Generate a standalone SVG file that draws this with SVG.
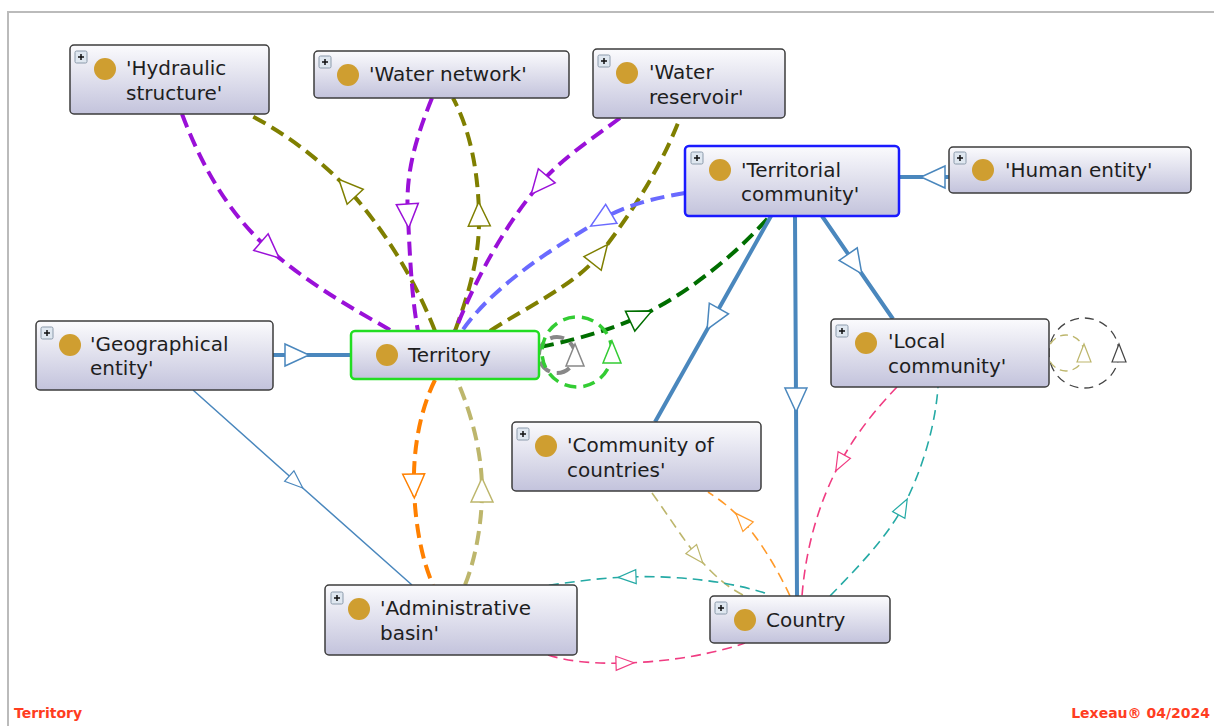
<svg xmlns="http://www.w3.org/2000/svg" width="1214" height="726" viewBox="0 0 1214 726">
<style>
.box{stroke:#3c3c3c;stroke-width:1.5;fill:url(#ng)}
.lbl{font-family:"DejaVu Sans","Liberation Sans",sans-serif;font-size:20px;fill:#1e1e1e}
.dot{fill:#cf9e30}
.pb{fill:#dfe7f0;stroke:#8b9aab;stroke-width:1}
.pl{stroke:#111;stroke-width:1.5}
.c{fill:none}
.th{stroke-width:4;stroke-dasharray:14 7}
.tn{stroke-width:1.6;stroke-dasharray:10 6}
.foot{font-family:"DejaVu Sans","Liberation Sans",sans-serif;font-size:14px;font-weight:bold;fill:#ff3d1f}
</style>
<defs>
<linearGradient id="ng" x1="0" y1="0" x2="0" y2="1">
<stop offset="0" stop-color="#fbfbfd"/>
<stop offset="1" stop-color="#c3c3dc"/>
</linearGradient>
<marker id="mPur" markerUnits="userSpaceOnUse" markerWidth="28" markerHeight="26" refX="13" refY="12" orient="auto" overflow="visible"><path d="M1,1 L25,12 L1,23 Z" fill="#fff" stroke="#9a10d8" stroke-width="1.5"/></marker>
<marker id="mOli" markerUnits="userSpaceOnUse" markerWidth="28" markerHeight="26" refX="13" refY="12" orient="auto" overflow="visible"><path d="M1,1 L25,12 L1,23 Z" fill="#fff" stroke="#7f7f00" stroke-width="1.5"/></marker>
<marker id="mLbl" markerUnits="userSpaceOnUse" markerWidth="28" markerHeight="26" refX="13" refY="12" orient="auto" overflow="visible"><path d="M1,1 L25,12 L1,23 Z" fill="#fff" stroke="#6a6aff" stroke-width="1.5"/></marker>
<marker id="mDgr" markerUnits="userSpaceOnUse" markerWidth="28" markerHeight="26" refX="13" refY="12" orient="auto" overflow="visible"><path d="M1,1 L25,12 L1,23 Z" fill="#fff" stroke="#006e00" stroke-width="1.5"/></marker>
<marker id="mGrn" markerUnits="userSpaceOnUse" markerWidth="28" markerHeight="26" refX="12" refY="10" orient="auto" overflow="visible"><path d="M1,1 L23,10 L1,19 Z" fill="#fff" stroke="#33cc33" stroke-width="1.5"/></marker>
<marker id="mGry" markerUnits="userSpaceOnUse" markerWidth="28" markerHeight="26" refX="12" refY="10" orient="auto" overflow="visible"><path d="M1,1 L23,10 L1,19 Z" fill="#fff" stroke="#888" stroke-width="1.5"/></marker>
<marker id="mOra" markerUnits="userSpaceOnUse" markerWidth="28" markerHeight="26" refX="13" refY="12" orient="auto" overflow="visible"><path d="M1,1 L25,12 L1,23 Z" fill="#fff" stroke="#ff8000" stroke-width="1.5"/></marker>
<marker id="mKha" markerUnits="userSpaceOnUse" markerWidth="28" markerHeight="26" refX="13" refY="12" orient="auto" overflow="visible"><path d="M1,1 L25,12 L1,23 Z" fill="#fff" stroke="#bdb66c" stroke-width="1.5"/></marker>
<marker id="mStl" markerUnits="userSpaceOnUse" markerWidth="28" markerHeight="26" refX="13" refY="12" orient="auto" overflow="visible"><path d="M1,1 L25,12 L1,23 Z" fill="#fff" stroke="#4a87bd" stroke-width="1.5"/></marker>
<marker id="sStl" markerUnits="userSpaceOnUse" markerWidth="22" markerHeight="18" refX="10" refY="8" orient="auto" overflow="visible"><path d="M1,1 L19,8 L1,15 Z" fill="#fff" stroke="#4a87bd" stroke-width="1.2"/></marker>
<marker id="sPnk" markerUnits="userSpaceOnUse" markerWidth="22" markerHeight="18" refX="10" refY="8" orient="auto" overflow="visible"><path d="M1,1 L19,8 L1,15 Z" fill="#fff" stroke="#f03c82" stroke-width="1.2"/></marker>
<marker id="sTea" markerUnits="userSpaceOnUse" markerWidth="22" markerHeight="18" refX="10" refY="8" orient="auto" overflow="visible"><path d="M1,1 L19,8 L1,15 Z" fill="#fff" stroke="#25aaa5" stroke-width="1.2"/></marker>
<marker id="sKha" markerUnits="userSpaceOnUse" markerWidth="22" markerHeight="18" refX="10" refY="8" orient="auto" overflow="visible"><path d="M1,1 L19,8 L1,15 Z" fill="#fff" stroke="#bdb66c" stroke-width="1.2"/></marker>
<marker id="sOra" markerUnits="userSpaceOnUse" markerWidth="22" markerHeight="18" refX="10" refY="8" orient="auto" overflow="visible"><path d="M1,1 L19,8 L1,15 Z" fill="#fff" stroke="#ff9a2a" stroke-width="1.2"/></marker>
<marker id="sGry" markerUnits="userSpaceOnUse" markerWidth="22" markerHeight="18" refX="10" refY="8" orient="auto" overflow="visible"><path d="M1,1 L19,8 L1,15 Z" fill="#fff" stroke="#444" stroke-width="1.2"/></marker>
</defs>
<rect width="1214" height="726" fill="#fff"/>
<path d="M8,726 L8,12 L1214,12" fill="none" stroke="#bbbbbb" stroke-width="2"/>

<g id="connectors">
<!-- Hydraulic structure -->
<path class="c th" stroke="#9a10d8" marker-mid="url(#mPur)" d="M182,114 C205,175 235,220 270,250 C310,285 355,310 392,331"/>
<path class="c th" stroke="#7f7f00" marker-mid="url(#mOli)" d="M435,331 C415,280 385,230 347,188 C318,158 285,133 248,114"/>
<!-- Water network -->
<path class="c th" stroke="#9a10d8" marker-mid="url(#mPur)" d="M432,98 C415,140 405,175 408,216 C410,260 412,300 418,331"/>
<path class="c th" stroke="#7f7f00" marker-mid="url(#mOli)" d="M455,331 C470,290 480,255 479,214 C478,170 470,130 453,98"/>
<!-- Water reservoir -->
<path class="c th" stroke="#9a10d8" marker-mid="url(#mPur)" d="M620,118 C590,140 560,160 539,185 C505,225 475,280 455,331"/>
<path class="c th" stroke="#7f7f00" marker-mid="url(#mOli)" d="M490,331 C530,305 575,285 600,254 C630,215 660,170 680,118"/>
<!-- Territorial community <-> Territory -->
<path class="c th" stroke="#6a6aff" marker-mid="url(#mLbl)" d="M685,193 C655,198 625,205 601,220 C545,252 490,290 462,331"/>
<path class="c th" stroke="#006e00" marker-mid="url(#mDgr)" d="M540,347 C575,340 610,330 641,316 C690,292 735,255 770,216"/>
<!-- Territory loops -->
<path class="c th" stroke="#888" marker-start="url(#mGry)" d="M575,355 A18,18 0 0,0 539,355 A18,18 0 0,0 575,355"/>
<path class="c" stroke="#33cc33" stroke-width="3.5" stroke-dasharray="12 7" marker-start="url(#mGrn)" d="M612,352 A35,35 0 0,0 542,352 A35,35 0 0,0 612,352"/>
<!-- Geographical entity -->
<path class="c" stroke="#4a87bd" stroke-width="4" marker-mid="url(#mStl)" d="M273,355 L297,355 L351,355"/>
<path class="c" stroke="#4a87bd" stroke-width="1.5" marker-mid="url(#sStl)" d="M193,390 L296,482 L412,585"/>
<!-- Territorial community solid -->
<path class="c" stroke="#4a87bd" stroke-width="4" marker-mid="url(#mStl)" d="M949,177 L933,177 L899,177"/>
<path class="c" stroke="#4a87bd" stroke-width="4" marker-mid="url(#mStl)" d="M822,216 L855,264 L893,319"/>
<path class="c" stroke="#4a87bd" stroke-width="4" marker-mid="url(#mStl)" d="M795,216 L796,400 L797,596"/>
<path class="c" stroke="#4a87bd" stroke-width="4" marker-mid="url(#mStl)" d="M771,216 L713,319 L655,422"/>
<!-- Territory <-> Administrative basin -->
<path class="c th" stroke="#ff8000" marker-mid="url(#mOra)" d="M435,380 C420,410 413,450 414,486 C415,525 422,560 433,585"/>
<path class="c th" stroke="#bdb66c" marker-mid="url(#mKha)" d="M465,585 C475,560 482,525 482,490 C482,450 470,410 457,380"/>
<!-- Community of countries <-> Country -->
<path class="c tn" stroke="#bdb66c" marker-mid="url(#sKha)" d="M652,493 C668,515 682,538 697,556 C712,574 728,588 745,596"/>
<path class="c tn" stroke="#ff9a2a" marker-mid="url(#sOra)" d="M790,596 C778,570 760,540 742,520 C730,507 720,500 708,492"/>
<!-- Local community <-> Country -->
<path class="c tn" stroke="#f03c82" marker-mid="url(#sPnk)" d="M897,387 C875,410 855,435 840,463 C820,500 806,545 802,596"/>
<path class="c tn" stroke="#25aaa5" marker-mid="url(#sTea)" d="M830,596 C855,570 885,540 903,507 C920,475 935,430 938,387"/>
<!-- Country <-> Administrative basin -->
<path class="c tn" stroke="#25aaa5" marker-mid="url(#sTea)" d="M765,593 C730,582 680,575 627,577 C600,578 570,582 545,586"/>
<path class="c tn" stroke="#f03c82" marker-mid="url(#sPnk)" d="M548,655 C570,662 598,664 625,663 C665,662 710,655 745,643"/>
<!-- Local community loops -->
<path class="c" stroke="#444" stroke-width="1.3" stroke-dasharray="9 6" marker-start="url(#sGry)" d="M1119,353 A35,35 0 0,0 1049,353 A35,35 0 0,0 1119,353"/>
<path class="c" stroke="#bdb66c" stroke-width="1.3" stroke-dasharray="8 5" marker-start="url(#sKha)" d="M1084,353 A18,18 0 0,0 1048,353 A18,18 0 0,0 1084,353"/>
</g>

<g id="n-hydraulic">
<rect class="box" x="70" y="45" width="199" height="69" rx="4"/>
<rect class="pb" x="75" y="51" width="12" height="12" rx="1.5"/><path class="pl" d="M78,57 H84 M81,54 V60"/>
<circle class="dot" cx="105" cy="69" r="11"/>
<text class="lbl" x="126" y="75">'Hydraulic</text><text class="lbl" x="126" y="100">structure'</text>
</g>
<g id="n-waternetwork">
<rect class="box" x="314" y="51" width="255" height="47" rx="4"/>
<rect class="pb" x="319" y="56" width="12" height="12" rx="1.5"/><path class="pl" d="M322,62 H328 M325,59 V65"/>
<circle class="dot" cx="348" cy="75" r="11"/>
<text class="lbl" x="369" y="81">'Water network'</text>
</g>
<g id="n-waterreservoir">
<rect class="box" x="593" y="49" width="192" height="69" rx="4"/>
<rect class="pb" x="598" y="55" width="12" height="12" rx="1.5"/><path class="pl" d="M601,61 H607 M604,58 V64"/>
<circle class="dot" cx="627" cy="73" r="11"/>
<text class="lbl" x="649" y="79">'Water</text><text class="lbl" x="649" y="104">reservoir'</text>
</g>
<g id="n-territorialcommunity">
<rect class="box" x="685" y="146" width="214" height="70" rx="4" style="stroke:#1a1aff;stroke-width:2.5"/>
<rect class="pb" x="691" y="152" width="12" height="12" rx="1.5"/><path class="pl" d="M694,158 H700 M697,155 V161"/>
<circle class="dot" cx="720" cy="170" r="11"/>
<text class="lbl" x="741" y="177">'Territorial</text><text class="lbl" x="741" y="201">community'</text>
</g>
<g id="n-humanentity">
<rect class="box" x="949" y="147" width="242" height="46" rx="4"/>
<rect class="pb" x="954" y="152" width="12" height="12" rx="1.5"/><path class="pl" d="M957,158 H963 M960,155 V161"/>
<circle class="dot" cx="983" cy="170" r="11"/>
<text class="lbl" x="1005" y="177">'Human entity'</text>
</g>
<g id="n-geographical">
<rect class="box" x="36" y="321" width="237" height="69" rx="4"/>
<rect class="pb" x="41" y="327" width="12" height="12" rx="1.5"/><path class="pl" d="M44,333 H50 M47,330 V336"/>
<circle class="dot" cx="70" cy="345" r="11"/>
<text class="lbl" x="90" y="351">'Geographical</text><text class="lbl" x="90" y="375">entity'</text>
</g>
<g id="n-territory">
<rect class="box" x="351" y="331" width="188" height="48" rx="4" style="stroke:#22dd22;stroke-width:2.5"/>
<circle class="dot" cx="387" cy="355" r="11"/>
<text class="lbl" x="408" y="362">Territory</text>
</g>
<g id="n-localcommunity">
<rect class="box" x="831" y="319" width="218" height="68" rx="4"/>
<rect class="pb" x="836" y="325" width="12" height="12" rx="1.5"/><path class="pl" d="M839,331 H845 M842,328 V334"/>
<circle class="dot" cx="866" cy="343" r="11"/>
<text class="lbl" x="888" y="348">'Local</text><text class="lbl" x="888" y="373">community'</text>
</g>
<g id="n-communityofcountries">
<rect class="box" x="512" y="422" width="249" height="69" rx="4"/>
<rect class="pb" x="517" y="428" width="12" height="12" rx="1.5"/><path class="pl" d="M520,434 H526 M523,431 V437"/>
<circle class="dot" cx="546" cy="446" r="11"/>
<text class="lbl" x="567" y="452">'Community of</text><text class="lbl" x="567" y="477">countries'</text>
</g>
<g id="n-country">
<rect class="box" x="710" y="596" width="180" height="47" rx="4"/>
<rect class="pb" x="715" y="602" width="12" height="12" rx="1.5"/><path class="pl" d="M718,608 H724 M721,605 V611"/>
<circle class="dot" cx="745" cy="620" r="11"/>
<text class="lbl" x="766" y="627">Country</text>
</g>
<g id="n-adminbasin">
<rect class="box" x="325" y="585" width="252" height="70" rx="4"/>
<rect class="pb" x="331" y="592" width="12" height="12" rx="1.5"/><path class="pl" d="M334,598 H340 M337,595 V601"/>
<circle class="dot" cx="359" cy="609" r="11"/>
<text class="lbl" x="380" y="615">'Administrative</text><text class="lbl" x="380" y="640">basin'</text>
</g>

<text class="foot" x="14" y="718">Territory</text>
<text class="foot" x="1210" y="718" text-anchor="end">Lexeau® 04/2024</text>
</svg>
